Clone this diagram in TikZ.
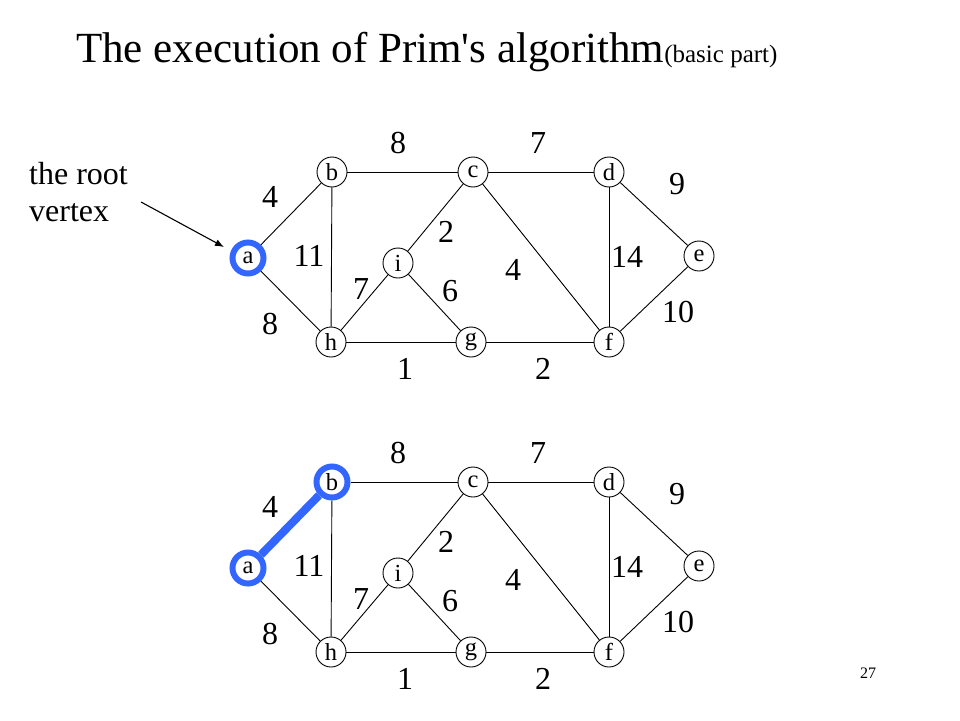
\documentclass[tikz,border=0pt]{standalone}
\usepackage{fontspec}
\setmainfont{Liberation Serif}
\newfontfamily\plainserif{Liberation Serif}
\usetikzlibrary{arrows.meta}
\definecolor{hlblue}{RGB}{51,102,255}
\tikzset{
  vtx/.style={circle,draw=black,line width=0.9pt,fill=white,minimum size=30pt,inner sep=0pt,font=\fontsize{24.5}{26}\selectfont},
  hlvtx/.style={vtx,draw=hlblue,line width=6pt,minimum size=31pt},
  edge/.style={draw=black,line width=0.9pt},
  hledge/.style={draw=hlblue,line width=8pt},
  wt/.style={inner sep=0pt,font=\fontsize{32}{36}\selectfont},
}
\newcommand{\graphnodes}[2]{%
  \begin{scope}[shift={(0,#1)}]
  \node[#2] (#1a) at (248,258) {a};
  \node[vtx] (#1c) at (473,172) {c};
  \node[vtx] (#1d) at (609,172) {d};
  \node[vtx] (#1e) at (699,256) {e};
  \node[vtx] (#1f) at (609,342) {f};
  \node[vtx] (#1g) at (471,342) {g};
  \node[vtx] (#1h) at (331,342) {h};
  \node[vtx] (#1i) at (398,263) {i};
  \node[wt] (#1w1) at (398,143) {8};
  \node[wt] (#1w2) at (538,143) {7};
  \node[wt] (#1w3) at (270,197) {4};
  \node[wt] (#1w4) at (677,184) {9};
  \node[wt] (#1w5) at (446,232) {2};
  \node[wt] (#1w6) at (309,256) {11};
  \node[wt] (#1w7) at (627,257) {14};
  \node[wt] (#1w8) at (513,270) {4};
  \node[wt] (#1w9) at (361,289) {7};
  \node[wt] (#1w10) at (450,291) {6};
  \node[wt] (#1w11) at (678,312) {10};
  \node[wt] (#1w12) at (270,324) {8};
  \node[wt] (#1w13) at (405,369) {1};
  \node[wt] (#1w14) at (543,369) {2};
  \end{scope}}
\begin{document}
\begin{tikzpicture}[x=1pt,y=-1pt]
\useasboundingbox (0,0) rectangle (960,720);
% title
\node[anchor=base west,inner sep=0pt] (title) at (76,62)
  {\fontsize{43}{48}\selectfont The execution of Prim{\plainserif '}s algorithm{\fontsize{25}{28}\selectfont(basic part)}};
% root label
\node[anchor=base west,inner sep=0pt,font=\fontsize{32}{37.5}\selectfont] (rootlbl) at (29,184) {the root};
\node[anchor=base west,inner sep=0pt,font=\fontsize{32}{37.5}\selectfont] (rootlbl2) at (29,221.5) {vertex};
\coordinate (arrS) at (141,202);
\coordinate (arrE) at (224,247);
\draw[line width=1.1pt,-{Latex[length=9pt,width=7pt]}] (arrS) -- (arrE);
% top graph
\graphnodes{0}{hlvtx}
\node[vtx] (0b) at (332,172) {b};
\draw[edge] (0a) -- (0b);
\draw[edge] (0a) -- (0h);
\draw[edge] (0b) -- (0c);
\draw[edge] (0b) -- (0h);
\draw[edge] (0c) -- (0d);
\draw[edge] (0c) -- (0i);
\draw[edge] (0c) -- (0f);
\draw[edge] (0d) -- (0e);
\draw[edge] (0d) -- (0f);
\draw[edge] (0e) -- (0f);
\draw[edge] (0h) -- (0i);
\draw[edge] (0i) -- (0g);
\draw[edge] (0h) -- (0g);
\draw[edge] (0g) -- (0f);
% bottom graph
\graphnodes{310}{hlvtx}
\node[hlvtx] (310b) at (332,482) {b};
\draw[edge] (310a) -- (310h);
\draw[edge] (310b) -- (310c);
\draw[edge] (310b) -- (310h);
\draw[edge] (310c) -- (310d);
\draw[edge] (310c) -- (310i);
\draw[edge] (310c) -- (310f);
\draw[edge] (310d) -- (310e);
\draw[edge] (310d) -- (310f);
\draw[edge] (310e) -- (310f);
\draw[edge] (310h) -- (310i);
\draw[edge] (310i) -- (310g);
\draw[edge] (310h) -- (310g);
\draw[edge] (310g) -- (310f);
\draw[hledge] (310a) -- (310b);
% page number
\node[anchor=base,inner sep=0pt,font=\fontsize{16}{18}\selectfont] (pnum) at (868,678) {27};
\end{tikzpicture}
\end{document}
